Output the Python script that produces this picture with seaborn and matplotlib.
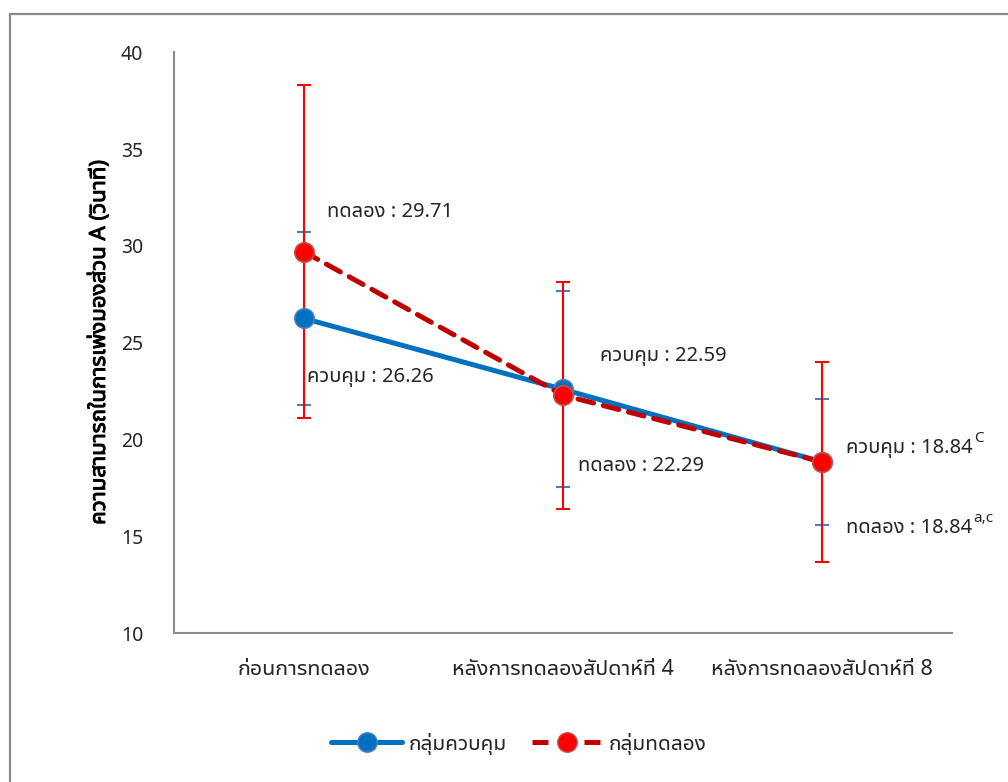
import matplotlib
matplotlib.use("Agg")
import matplotlib.pyplot as plt
import matplotlib.patheffects as pe
from matplotlib.lines import Line2D
import numpy as np
import pandas as pd
import seaborn as sns

# --- data -------------------------------------------------------------
phases = ["ก่อนการทดลอง", "หลังการทดลองสัปดาห์ที่ 4", "หลังการทดลองสัปดาห์ที่ 8"]
group_names = ["กลุ่มควบคุม", "กลุ่มทดลอง"]
control_mean = [26.26, 22.59, 18.84]
control_sd = [4.47, 5.07, 3.26]
treat_mean = [29.71, 22.29, 18.84]
treat_sd = [8.59, 5.87, 5.17]
control_tag = "ควบคุม"
treat_tag = "ทดลอง"
control_sup = ["", "", "C"]
treat_sup = ["", "", "a,c"]
y_label = "ความสามารถในการเพ่งมองส่วน A (วินาที)"
y_ticks = [10, 15, 20, 25, 30, 35, 40]

# --- style ------------------------------------------------------------
sns.set_theme(style="white")
FONTS = ["Noto Sans", "Noto Sans Thai UI", "DejaVu Sans"]
plt.rcParams["font.family"] = FONTS
TXT = "#262626"
BLUE = "#0070C0"
DARKRED = "#C00000"
RED = "#FF0000"

df = pd.DataFrame({
    "phase": np.tile(np.arange(len(phases)), 2),
    "value": control_mean + treat_mean,
    "group": np.repeat(group_names, len(phases)),
})

fig = plt.figure(figsize=(10.08, 7.82), dpi=100)
ax = fig.add_axes([0.1726, 0.1905, 0.7718, 0.7425])

x = np.arange(len(phases))
# error bars (SD)
ax.errorbar(x, control_mean, yerr=control_sd, fmt="none", ecolor="#4A7EBB",
            elinewidth=1.5, capsize=5, capthick=1.5, zorder=2)
ax.errorbar(x, treat_mean, yerr=treat_sd, fmt="none", ecolor=RED,
            elinewidth=1.5, capsize=5, capthick=1.5, zorder=2.1)

sns.lineplot(data=df, x="phase", y="value", hue="group", style="group",
             hue_order=group_names, style_order=group_names,
             palette={group_names[0]: BLUE, group_names[1]: DARKRED},
             dashes={group_names[0]: "", group_names[1]: (3.2, 2.0)},
             markers={group_names[0]: "o", group_names[1]: "o"},
             linewidth=3.6, markersize=14, ax=ax, legend=False,
             sort=False, estimator=None)

mfaces = [BLUE, RED]
medges = ["#4F81BD", "#C0504D"]
for i, ln in enumerate(ax.lines[-2:]):
    ln.set_markerfacecolor(mfaces[i])
    ln.set_markeredgecolor(medges[i])
    ln.set_markeredgewidth(1.2)
    ln.set_zorder(3 + i)
    ln.set_dash_capstyle("round")

# value labels: (x index, value, tag, sup, dx px, dy px)
labels = [
    (0, treat_mean[0], treat_tag, treat_sup[0], 23, 40),
    (0, control_mean[0], control_tag, control_sup[0], 3, -59),
    (1, control_mean[1], control_tag, control_sup[1], 37, 33),
    (1, treat_mean[1], treat_tag, treat_sup[1], 15, -71),
    (2, control_mean[2], control_tag, control_sup[2], 24, 14),
    (2, treat_mean[2], treat_tag, treat_sup[2], 24, -66),
]
for xi, v, tag, sup, dx, dy in labels:
    t = ax.annotate(f"{tag} : {v:.2f}", xy=(xi, v), xytext=(dx, dy),
                    textcoords="offset pixels", ha="left", va="center",
                    fontsize=14.5, color=TXT, zorder=6)
    if sup:
        ax.annotate(sup, xy=(1, 0.62), xycoords=t, xytext=(1, 0),
                    textcoords="offset pixels", ha="left", va="bottom",
                    fontsize=11, color=TXT, zorder=6)

ax.set_xlim(-0.5, len(phases) - 0.5)
ax.set_ylim(10, 40)
ax.set_yticks(y_ticks)
ax.set_yticklabels([str(t) for t in y_ticks], fontsize=14, color=TXT)
ax.set_xticks(x)
ax.set_xticklabels(phases, fontsize=15.5, color=TXT)
ax.tick_params(axis="both", length=0)
ax.tick_params(axis="y", pad=22)
ax.tick_params(axis="x", pad=19)
ax.set_xlabel("")
ylab = ax.set_ylabel(y_label, fontsize=16, fontweight="bold", color="#000000",
                     labelpad=8)
ylab.set_path_effects([pe.withStroke(linewidth=0.7, foreground="#000000")])

for s in ["top", "right"]:
    ax.spines[s].set_visible(False)
for s in ["left", "bottom"]:
    ax.spines[s].set_color("#8C8C8C")
    ax.spines[s].set_linewidth(1.5)

# legend
handles = [
    Line2D([0], [0], color=BLUE, lw=3.6, marker="o", markersize=14,
           markerfacecolor=BLUE, markeredgecolor="#4F81BD"),
    Line2D([0], [0], color=DARKRED, lw=3.6, ls=(0, (3.2, 2.0)), marker="o",
           markersize=14, markerfacecolor=RED, markeredgecolor="#C0504D"),
]
fig.legend(handles, group_names, loc="center", bbox_to_anchor=(0.515, 0.049),
           ncol=2, frameon=False, fontsize=15, handlelength=3.4,
           columnspacing=1.2, handletextpad=0.3, labelcolor=TXT)

# outer chart border (top and left edges)
fig.add_artist(Line2D([9.5 / 1008, 1.0], [1 - 13.5 / 782, 1 - 13.5 / 782],
                      transform=fig.transFigure, color="#8A8A8A", lw=1.6))
fig.add_artist(Line2D([9.5 / 1008, 9.5 / 1008], [0.0, 1 - 13.5 / 782],
                      transform=fig.transFigure, color="#8A8A8A", lw=1.6))

fig.savefig("out.png", dpi=100, facecolor="white")
